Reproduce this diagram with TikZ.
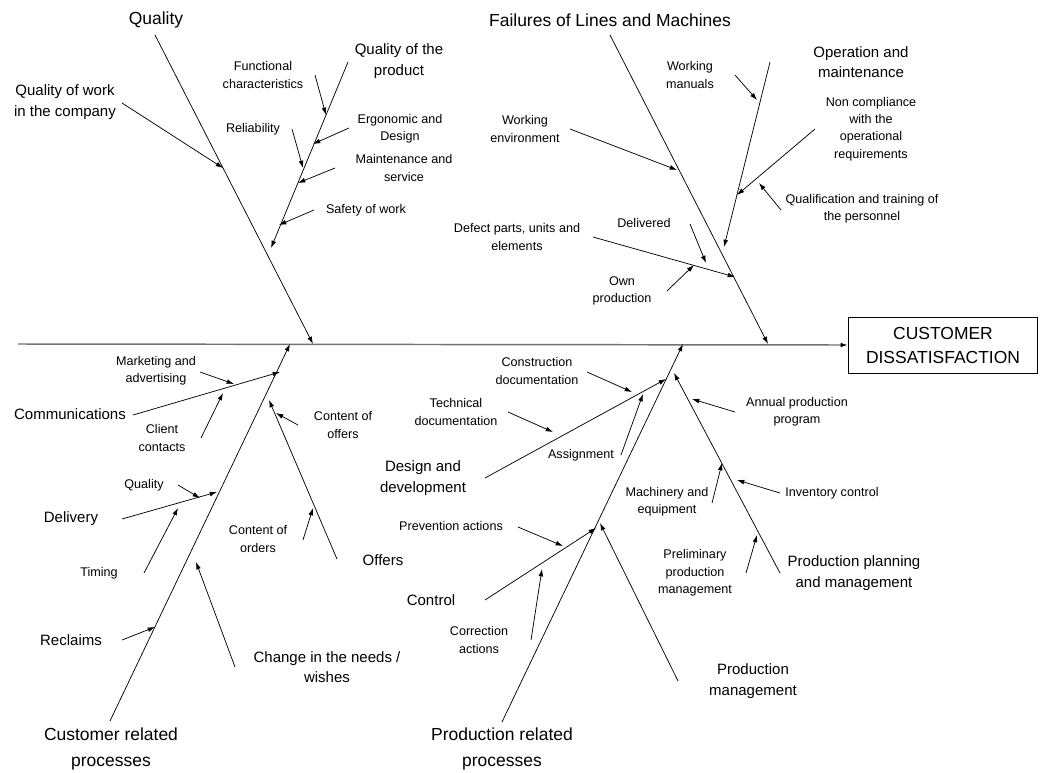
\documentclass[tikz,border=0pt]{standalone}
\usepackage{fontspec}
\setmainfont{Liberation Sans}
\usetikzlibrary{arrows.meta, positioning}
\tikzset{
    >={Latex[length=5.5pt,width=3.6pt]}, % small filled arrow heads
    spine/.style={-{Latex[length=5.5pt,width=3.6pt,color=black]}, line width=1.1pt, draw=black!55}, % the main axis
    bone/.style={->, line width=0.55pt}, % bones and the small causes
    effect/.style={draw, line width=0.7pt, minimum width=142pt, minimum height=42pt, align=center, font=\fontsize{13.1pt}{18pt}\selectfont, inner sep=0pt}, % the result box
    lblbig/.style={align=center, inner sep=0pt, font=\fontsize{13.1pt}{19.5pt}\selectfont}, % main categories
    lblmid/.style={align=center, inner sep=0pt, font=\fontsize{11.25pt}{15.5pt}\selectfont}, % sub categories
    lblsmall/.style={align=center, inner sep=0pt, font=\fontsize{9.45pt}{13pt}\selectfont}, % causes
    }

\begin{document}
\begin{tikzpicture}[x=0.75pt, y=-0.75pt]
\useasboundingbox (0,0) rectangle (1040,772);

% result
\node[effect] (effect) at (943,345) {CUSTOMER\\DISSATISFACTION};

% main categories
\node[lblbig] (quality) at (156,20) {Quality};
\node[lblbig] (failures) at (610,20) {Failures of Lines and Machines};
\node[lblbig] (custproc) at (111,749) {Customer related\\processes};
\node[lblbig] (prodproc) at (502,749) {Production related\\processes};

% sub categories
\node[lblmid] (qwork) at (65,102) {Quality of work\\in the company};
\node[lblmid] (qprod) at (399,61) {Quality of the\\product};
\node[lblmid] (operation) at (861,62) {Operation and\\maintenance};
\node[lblmid] (comm) at (70,414) {Communications};
\node[lblmid] (delivery) at (71,519) {Delivery};
\node[lblmid] (reclaims) at (71,640) {Reclaims};
\node[lblmid] (offers) at (383,560) {Offers};
\node[lblmid] (change) at (327,667) {Change in the needs /\\wishes};
\node[lblmid] (design) at (423,478) {Design and\\development};
\node[lblmid] (control) at (431,600) {Control};
\node[lblmid] (prodmgmt) at (753,681) {Production\\management};
\node[lblmid] (planning) at (854,573) {Production planning\\and management};

% causes
\node[lblsmall] (functional) at (263,75) {Functional\\characteristics};
\node[lblsmall] (reliability) at (253,129) {Reliability};
\node[lblsmall] (ergonomic) at (400,129) {Ergonomic and\\Design};
\node[lblsmall] (maintenance) at (404,168) {Maintenance and\\service};
\node[lblsmall] (safety) at (366,210) {Safety of work};
\node[lblsmall] (wmanuals) at (690,75) {Working\\manuals};
\node[lblsmall] (wenv) at (525,129) {Working\\environment};
\node[lblsmall] (defect) at (517,237) {Defect parts, units and\\elements};
\node[lblsmall] (delivered) at (644,223) {Delivered};
\node[lblsmall] (own) at (622,291) {Own\\production};
\node[lblsmall] (noncomp) at (871,129) {Non compliance\\with the\\operational\\requirements};
\node[lblsmall] (qualif) at (862,209) {Qualification and training of\\the personnel};
\node[lblsmall] (marketing) at (156,371) {Marketing and\\advertising};
\node[lblsmall] (client) at (162,438) {Client\\contacts};
\node[lblsmall] (offcontent) at (343,425) {Content of\\offers};
\node[lblsmall] (ordcontent) at (258,539) {Content of\\orders};
\node[lblsmall] (dquality) at (144,485) {Quality};
\node[lblsmall] (timing) at (99,573) {Timing};
\node[lblsmall] (construction) at (537,371) {Construction\\documentation};
\node[lblsmall] (technical) at (456,412) {Technical\\documentation};
\node[lblsmall] (assignment) at (581,455) {Assignment};
\node[lblsmall] (prevention) at (451,526) {Prevention actions};
\node[lblsmall] (correction) at (479,640) {Correction\\actions};
\node[lblsmall] (annual) at (797,412) {Annual production\\program};
\node[lblsmall] (machinery) at (667,502) {Machinery and\\equipment};
\node[lblsmall] (inventory) at (832,493) {Inventory control};
\node[lblsmall] (preliminary) at (695,573) {Preliminary\\production\\management};

% end points of the bones (s = start, e = tip)
\foreach \n/\x/\y in {spine-s/18/344,
    quality-s/155/35, quality-e/313/344, failures-s/610/35, failures-e/768/344,
    custproc-s/110/721, custproc-e/290/344, prodproc-s/502/722, prodproc-e/683/344,
    qwork-s/122/103, qwork-e/223/168, qprod-s/348/62, qprod-e/271/248,
    functional-s/315/75, functional-e/326/115, reliability-s/292/129, reliability-e/303/168,
    ergonomic-s/349/128, ergonomic-e/313/144, maintenance-s/335/168, maintenance-e/298/183,
    safety-s/314/210, safety-e/279/225,
    wenv-s/570/129, wenv-e/677/170, defect-s/593/237, defect-e/735/277,
    delivered-s/690/224, delivered-e/706/263, own-s/667/291, own-e/694/265,
    operation-s/770/62, operation-e/724/247, wmanuals-s/735/75, wmanuals-e/757/100,
    noncomp-s/815/129, noncomp-e/737/195, qualif-s/781/210, qualif-e/759/183,
    comm-s/133/415, comm-e/280/372, marketing-s/200/372, marketing-e/234/384,
    client-s/201/438, client-e/223/393, offers-s/337/559, offers-e/269/400,
    offcontent-s/298/425, offcontent-e/276/413, ordcontent-s/303/540, ordcontent-e/313/508,
    delivery-s/122/519, delivery-e/217/492, dquality-s/178/485, dquality-e/200/498,
    timing-s/144/573, timing-e/178/508, reclaims-s/122/640, reclaims-e/155/627,
    change-s/235/667, change-e/196/562,
    design-s/485/478, design-e/666/379, construction-s/587/372, construction-e/632/392,
    technical-s/508/412, technical-e/553/432, assignment-s/621/455, assignment-e/643/394,
    control-s/485/600, control-e/596/528, prevention-s/518/527, prevention-e/563/546,
    correction-s/531/640, correction-e/542/569,
    prodmgmt-s/678/681, prodmgmt-e/600/523, planning-s/780/573, planning-e/674/373,
    annual-s/735/412, annual-e/692/399, machinery-s/712/503, machinery-e/722/463,
    inventory-s/780/493, inventory-e/737/480, preliminary-s/746/573, preliminary-e/757/535}
    \coordinate (\n) at (\x,\y);

% spine
\draw[spine] (spine-s) -- (effect.west);

% bones
\foreach \b in {quality, failures, custproc, prodproc,
    qwork, qprod, functional, reliability, ergonomic, maintenance, safety,
    wenv, defect, delivered, own, operation, wmanuals, noncomp, qualif,
    comm, marketing, client, offers, offcontent, ordcontent,
    delivery, dquality, timing, reclaims, change,
    design, construction, technical, assignment,
    control, prevention, correction, prodmgmt,
    planning, annual, machinery, inventory, preliminary}
    \draw[bone] (\b-s) -- (\b-e);
\end{tikzpicture}
\end{document}
